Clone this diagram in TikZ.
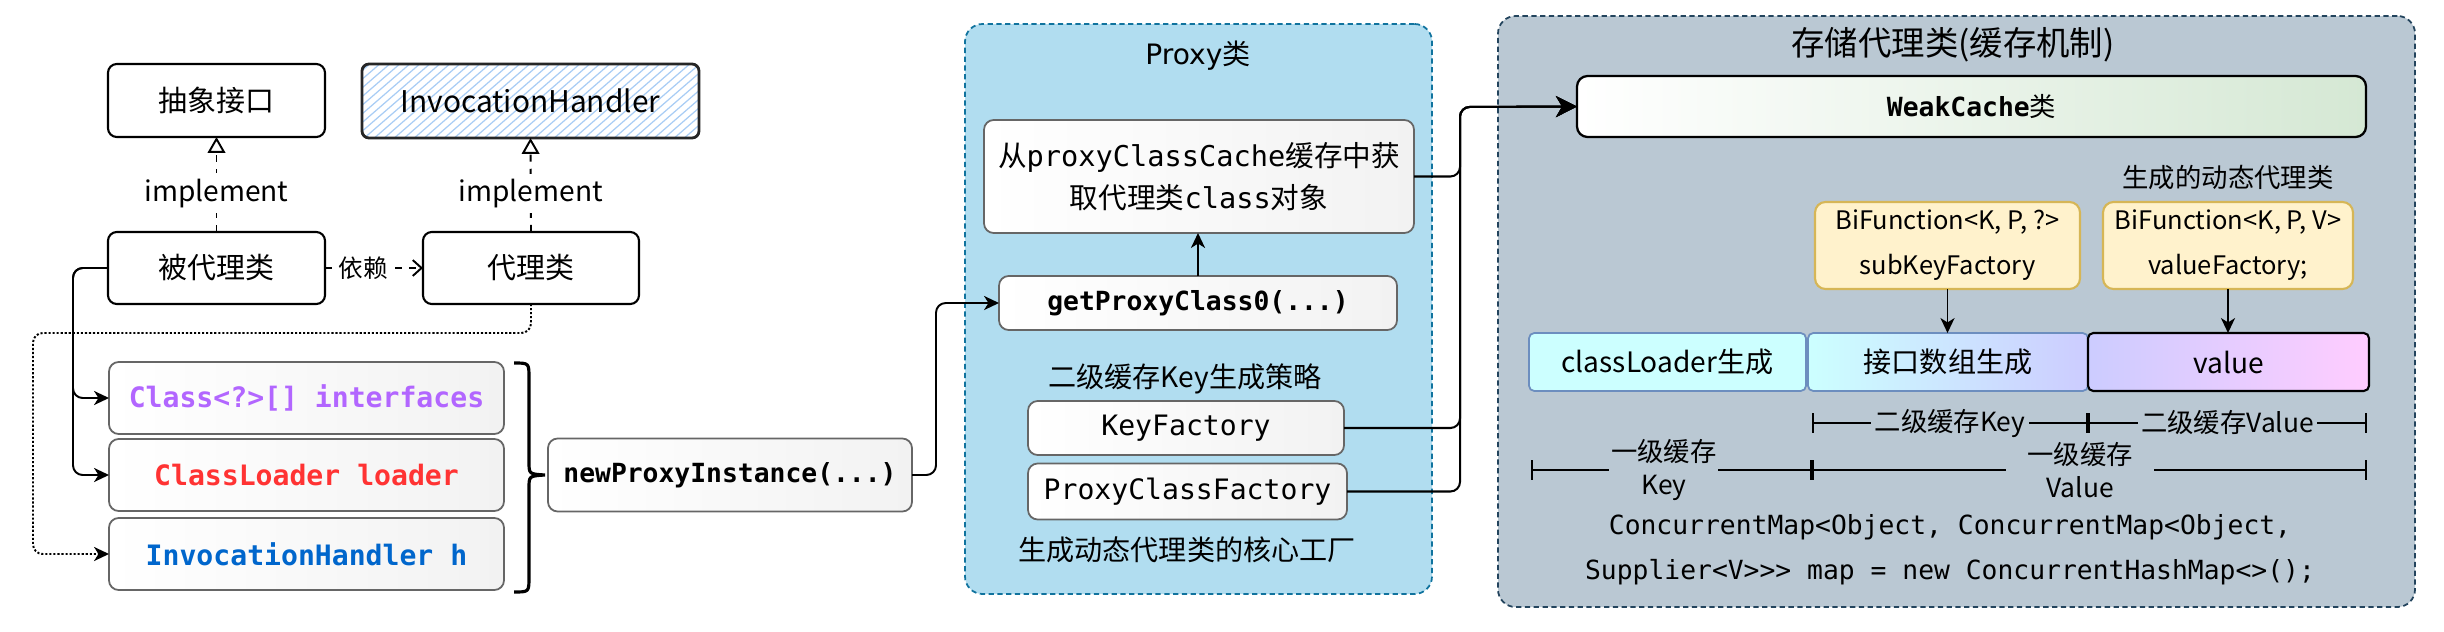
\documentclass[tikz,border=0pt]{standalone}
\usepackage{fontspec}
\setmainfont{Noto Sans CJK SC}
\newfontfamily\monof{DejaVu Sans Mono}
\newfontfamily\djv{DejaVu Sans}
\usetikzlibrary{arrows.meta}
\definecolor{proxyfill}{HTML}{B1DDF0}
\definecolor{proxyline}{HTML}{10739E}
\definecolor{storefill}{HTML}{BAC8D3}
\definecolor{storeline}{HTML}{23445D}
\definecolor{gline}{HTML}{666666}
\definecolor{gfill}{HTML}{F2F2F2}
\definecolor{yfill}{HTML}{FFF2CC}
\definecolor{yline}{HTML}{D6B656}
\definecolor{bline}{HTML}{6C8EBF}
\definecolor{cyanf}{HTML}{CCFFFF}
\definecolor{lavf}{HTML}{CCCCFF}
\definecolor{pinkf}{HTML}{FFCCFF}
\definecolor{greenf}{HTML}{D5E8D4}
\definecolor{purp}{HTML}{B266FF}
\definecolor{redc}{HTML}{FF3333}
\definecolor{bluec}{HTML}{0066CC}
\definecolor{hatchc}{HTML}{A9CDF5}
\newcommand\pxs{0.02cm}
\begin{document}
\begin{tikzpicture}[x=0.02cm,y=-0.02cm,
  every node/.style={inner sep=0pt,outer sep=0pt},
  sbox/.style={draw=black,line width=1.2pt,rounded corners=5pt,fill=white,font=\fontsize{16.5}{20}\selectfont},
  gbox/.style={draw=gline,line width=1pt,rounded corners=5.5pt,left color=white,right color=gfill},
  conn/.style={line width=1.1pt,rounded corners=5.5pt,-{Stealth[length=8.5pt,width=8pt,inset=2.5pt]}},
  bigconn/.style={line width=1.15pt,rounded corners=5.5pt,-{Stealth[length=12pt,width=12pt,inset=3.5pt]}},
  dotconn/.style={line width=1.1pt,rounded corners=5.5pt,dash pattern=on 1.2pt off 1.1pt,-{Stealth[length=8.5pt,width=8pt,inset=2.5pt]}},
  realize/.style={line width=1.1pt,dash pattern=on 4pt off 4pt,-{Triangle[open,fill=white,length=9pt,width=10pt]}},
  depend/.style={line width=1.1pt,dash pattern=on 4pt off 4pt,-{Straight Barb[length=5pt,width=9pt]}},
  dim/.style={line width=1.2pt,{Bar[width=11pt]}-{Bar[width=11pt]}},
  mb/.style={font=\monof\bfseries\fontsize{16}{20}\selectfont},
  cont/.style={line width=1pt,dash pattern=on 3pt off 2pt,rounded corners=10pt},
  lab/.style={font=\fontsize{16}{20}\selectfont}
]
\useasboundingbox (0,0) rectangle (2444,632);
\fill[white] (0,0) rectangle (2444,632);

% ---------- left part ----------
\node[sbox,minimum width=217*\pxs,minimum height=73*\pxs] (abs) at (216.5,100.5) {抽象接口};
\begin{scope}
  \clip[rounded corners=4pt] (362,64) rectangle (699,138);
  \foreach \i in {-90,-80,...,350} \draw[hatchc,line width=0.7pt] (362+\i,140) -- ++(90,-78);
\end{scope}
\node[draw=black!85,line width=1.6pt,rounded corners=4pt,minimum width=337*\pxs,minimum height=74*\pxs,font=\fontsize{17}{20}\selectfont] (ih) at (530.5,101) {InvocationHandler};
\node[sbox,minimum width=217*\pxs,minimum height=72*\pxs] (bdl) at (216.5,268) {被代理类};
\node[sbox,minimum width=216*\pxs,minimum height=72*\pxs] (dl) at (531,268) {代理类};

\draw[realize] (bdl.north) -- (abs.south) node[pos=0.41,fill=white,inner sep=3pt,font=\fontsize{16}{20}\selectfont] {implement};
\draw[realize] (dl.north) -- (ih.south) node[pos=0.41,fill=white,inner sep=3pt,font=\fontsize{16}{20}\selectfont] {implement};
\draw[depend] (bdl.east) -- (dl.west) node[pos=0.39,fill=white,inner sep=3pt,font=\fontsize{14}{18}\selectfont] {依赖};

\node[gbox,minimum width=395*\pxs,minimum height=72*\pxs,mb,text=purp] (cls) at (306.5,398) {Class<?>[] interfaces};
\node[gbox,minimum width=395*\pxs,minimum height=72*\pxs,mb,text=redc] (cl) at (306.5,475) {ClassLoader loader};
\node[gbox,minimum width=395*\pxs,minimum height=72*\pxs,mb,text=bluec] (ihh) at (306.5,554) {InvocationHandler h};
\node[gbox,minimum width=364*\pxs,minimum height=73*\pxs,font=\monof\bfseries\fontsize{15}{20}\selectfont] (npi) at (730,475) {newProxyInstance(...)};

\coordinate (w1) at (73,268);
\coordinate (w2) at (531,333);
\coordinate (w3) at (33,333);
\draw[dotconn] (dl.south) -- (w2) -- (w3) |- (ihh.west);
\draw[conn] (bdl.west) -- (w1) |- (cls.west);
\draw[conn] (bdl.west) -- (w1) |- (cl.west);

% brace
\draw[line width=1.8pt] (514,363) .. controls (529,363) .. (529,378) -- (529,462) .. controls (529,474) .. (545,475) .. controls (529,476) .. (529,488) -- (529,577) .. controls (529,592) .. (514,592);

% ---------- Proxy part ----------
\node[cont,draw=proxyline,fill=proxyfill,minimum width=467*\pxs,minimum height=570*\pxs] (proxy) at (1198.5,309) {};
\node[lab] (ptitle) at (1198,56) {{\djv Proxy}类};
\node[gbox,minimum width=430*\pxs,minimum height=113*\pxs,align=center,font=\fontsize{16.3}{24}\selectfont] (cache) at (1199,176.5) {从{\monof proxyClassCache}缓存中获\\取代理类{\monof class}对象};
\node[gbox,minimum width=398*\pxs,minimum height=54*\pxs,font=\monof\bfseries\fontsize{15}{20}\selectfont] (gpc) at (1198,303) {getProxyClass0(...)};
\node[lab] (kst) at (1185,379) {二级缓存Key生成策略};
\node[gbox,minimum width=316*\pxs,minimum height=54*\pxs,font=\monof\fontsize{16}{20}\selectfont] (kf) at (1186,428) {KeyFactory};
\node[gbox,minimum width=319*\pxs,minimum height=56*\pxs,font=\monof\fontsize{16}{20}\selectfont] (pcf) at (1187.5,491.5) {ProxyClassFactory};
\node[lab] (core) at (1187,550) {生成动态代理类的核心工厂};

\coordinate (w4) at (936,475);
\draw[conn] (npi.east) -- (w4) |- (gpc.west);
\draw[conn] (gpc.north) -- (gpc.north |- cache.south);

% ---------- Storage part ----------
\node[cont,draw=storeline,fill=storefill,minimum width=917*\pxs,minimum height=591*\pxs] (store) at (1956.5,311.5) {};
\node[font=\fontsize{19}{22}\selectfont] (stitle) at (1953,45) {存储代理类(缓存机制)};
\node[draw=black,line width=1.3pt,rounded corners=6pt,left color=white,right color=greenf,minimum width=789*\pxs,minimum height=61*\pxs,font=\fontsize{15}{20}\selectfont] (wc) at (1971.5,106.5) {{\monof\bfseries WeakCache}类};

\coordinate (wx) at (1460,107);
\draw[bigconn] (cache.east) -| (wx) -- (wc.west);
\draw[bigconn] (kf.east) -| (wx) -- (wc.west);
\draw[bigconn] (pcf.east) -| (wx) -- (wc.west);

\node[font=\fontsize{15}{20}\selectfont] (gen) at (2228,178) {生成的动态代理类};
\node[draw=yline,fill=yfill,line width=1.2pt,rounded corners=6pt,minimum width=265*\pxs,minimum height=87*\pxs,align=center,font=\fontsize{14.5}{25.6}\selectfont] (bf1) at (1947.5,245.5) {BiFunction<K, P, ?>\\subKeyFactory};
\node[draw=yline,fill=yfill,line width=1.2pt,rounded corners=6pt,minimum width=250*\pxs,minimum height=87*\pxs,align=center,font=\fontsize{14.5}{25.6}\selectfont] (bf2) at (2228,245.5) {BiFunction<K, P, V>\\valueFactory;};

\node[draw=bline,fill=cyanf,line width=1pt,rounded corners=3pt,minimum width=277*\pxs,minimum height=58*\pxs,lab] (clg) at (1667.5,362) {classLoader生成};
\node[draw=bline,left color=cyanf,right color=lavf,line width=1pt,rounded corners=3pt,minimum width=280*\pxs,minimum height=58*\pxs,lab] (arr) at (1948,362) {接口数组生成};
\node[draw=black,left color=lavf,right color=pinkf,line width=1.2pt,rounded corners=3pt,minimum width=281*\pxs,minimum height=58*\pxs,lab] (val) at (2228.5,362) {value};

\draw[conn] (bf1.south) -- (bf1.south |- arr.north);
\draw[conn] (bf2.south) -- (bf2.south |- val.north);

\coordinate (d1) at (1812,423);
\coordinate (d2) at (2088,423);
\coordinate (d3) at (2367,423);
\draw[dim] (d1) -- (d2) node[midway,fill=storefill,inner sep=2pt,font=\fontsize{15}{20}\selectfont] {二级缓存Key};
\draw[dim] (d2) -- (d3) node[midway,fill=storefill,inner sep=2pt,font=\fontsize{15}{20}\selectfont] {二级缓存Value};
\coordinate (e1) at (1531,470);
\coordinate (e2) at (1812,470);
\coordinate (e3) at (2367,470);
\draw[dim] (e1) -- (e2) node[pos=0.473,fill=storefill,inner sep=1pt,align=center,font=\fontsize{15}{19}\selectfont] {一级缓存\\Key};
\draw[dim] (e2) -- (e3) node[pos=0.483,fill=storefill,inner xsep=12pt,inner ysep=1pt,align=center,font=\fontsize{15}{19}\selectfont] {一级缓存\\Value};

\node[align=center,font=\monof\fontsize{15}{25.6}\selectfont] (code) at (1950,549.5) {ConcurrentMap<Object, ConcurrentMap<Object,\\Supplier<V>{}>{}> map = new ConcurrentHashMap<>();};
\end{tikzpicture}
\end{document}
